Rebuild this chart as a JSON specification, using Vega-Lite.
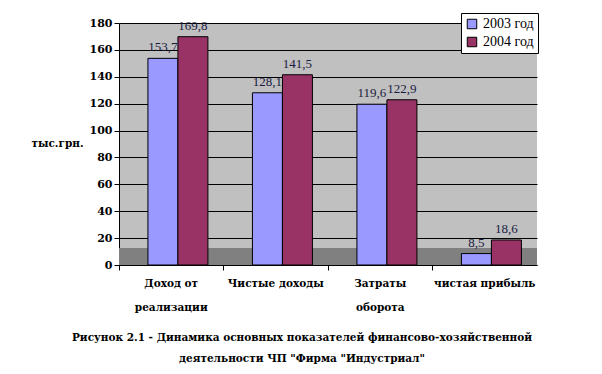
{
  "$schema": "https://vega.github.io/schema/vega-lite/v6.json",
  "width": 418,
  "height": 242,
  "autosize": "none",
  "padding": {"left": 119, "top": 23, "right": 65, "bottom": 109},
  "background": "white",
  "config": {
    "view": {"fill": "#c0c0c0", "stroke": null},
    "font": "DejaVu Serif",
    "locale": {"number": {"decimal": ",", "thousands": " ", "grouping": [3], "currency": ["", ""]}},
    "axisY": {
      "titleAngle": 0, "titleAlign": "center", "titleBaseline": "middle",
      "titleX": -62, "titleY": 120, "titleFont": "DejaVu Serif", "titleFontSize": 10.5,
      "titleFontWeight": "bold", "titleColor": "black",
      "labelFont": "DejaVu Serif", "labelFontSize": 11, "labelFontWeight": "bold", "labelColor": "black",
      "domainColor": "black", "tickColor": "black", "tickSize": 5, "labelPadding": 2,
      "labelOverlap": false, "tickCount": 12,
      "grid": true, "gridColor": "black", "gridWidth": 1, "gridOpacity": 1
    }
  },
  "data": {
    "values": [
      {"category": "Доход от реализации", "year": "2003 год", "value": 153.7},
      {"category": "Доход от реализации", "year": "2004 год", "value": 169.8},
      {"category": "Чистые доходы", "year": "2003 год", "value": 128.1},
      {"category": "Чистые доходы", "year": "2004 год", "value": 141.5},
      {"category": "Затраты оборота", "year": "2003 год", "value": 119.6},
      {"category": "Затраты оборота", "year": "2004 год", "value": 122.9},
      {"category": "чистая прибыль", "year": "2003 год", "value": 8.5},
      {"category": "чистая прибыль", "year": "2004 год", "value": 18.6}
    ]
  },
  "title": {
    "text": ["Рисунок 2.1 - Динамика основных показателей финансово-хозяйственной", "деятельности ЧП \"Фирма \"Индустриал\""],
    "orient": "bottom",
    "anchor": "middle",
    "font": "DejaVu Serif",
    "fontSize": 10.5,
    "fontWeight": "bold",
    "lineHeight": 21,
    "offset": 20,
    "dx": -26,
    "color": "black"
  },
  "layer": [
    {
      "mark": {"type": "rect", "color": "#808080"},
      "encoding": {
        "y": {"datum": 0, "type": "quantitative", "scale": {"domain": [0, 180]}, "title": "тыс.грн.",
              "axis": {"values": [0, 20, 40, 60, 80, 100, 120, 140, 160, 180], "tickCount": 12}},
        "y2": {"datum": 12.5}
      }
    },
    {
      "mark": {"type": "bar", "stroke": "black", "strokeWidth": 1},
      "encoding": {
        "x": {
          "field": "category", "type": "nominal",
          "sort": ["Доход от реализации", "Чистые доходы", "Затраты оборота", "чистая прибыль"],
          "scale": {"paddingInner": 0, "paddingOuter": 0},
          "axis": {
            "title": null, "labelAngle": 0, "domainColor": "black", "tickColor": "black", "tickSize": 5,
            "bandPosition": 0, "labelFont": "DejaVu Serif", "labelFontSize": 10.5,
            "labelFontWeight": "bold", "labelColor": "black", "labelLineHeight": 24, "labelPadding": 8,
            "labelBaseline": "top",
            "labelExpr": "datum.label == 'Доход от реализации' ? ['Доход от', 'реализации'] : datum.label == 'Затраты оборота' ? ['Затраты', 'оборота'] : datum.label"
          }
        },
        "xOffset": {"field": "year", "type": "nominal", "scale": {"paddingInner": 0, "paddingOuter": 0.742, "align": 0.65}},
        "y": {
          "field": "value", "type": "quantitative", "scale": {"domain": [0, 180]}, "title": "тыс.грн.",
          "axis": {"values": [0, 20, 40, 60, 80, 100, 120, 140, 160, 180], "tickCount": 12}
        },
        "color": {
          "field": "year", "type": "nominal",
          "scale": {"domain": ["2003 год", "2004 год"], "range": ["#9999ff", "#993366"]},
          "legend": {
            "orient": "none", "legendX": 342, "legendY": -10, "title": null,
            "fillColor": "white", "strokeColor": "black", "padding": 4,
            "symbolType": "square", "symbolSize": 90, "symbolStrokeColor": "black", "symbolStrokeWidth": 1,
            "labelFont": "Liberation Serif", "labelFontSize": 14, "labelColor": "black", "rowPadding": 4
          }
        }
      }
    },
    {
      "mark": {"type": "text", "baseline": "bottom", "dy": -4, "fontSize": 13, "font": "Liberation Serif", "color": "#1a1a40"},
      "encoding": {
        "x": {"field": "category", "type": "nominal", "sort": ["Доход от реализации", "Чистые доходы", "Затраты оборота", "чистая прибыль"]},
        "xOffset": {"field": "year", "type": "nominal"},
        "y": {"field": "value", "type": "quantitative"},
        "text": {"field": "value", "type": "quantitative", "format": ".1f"}
      }
    }
  ]
}
